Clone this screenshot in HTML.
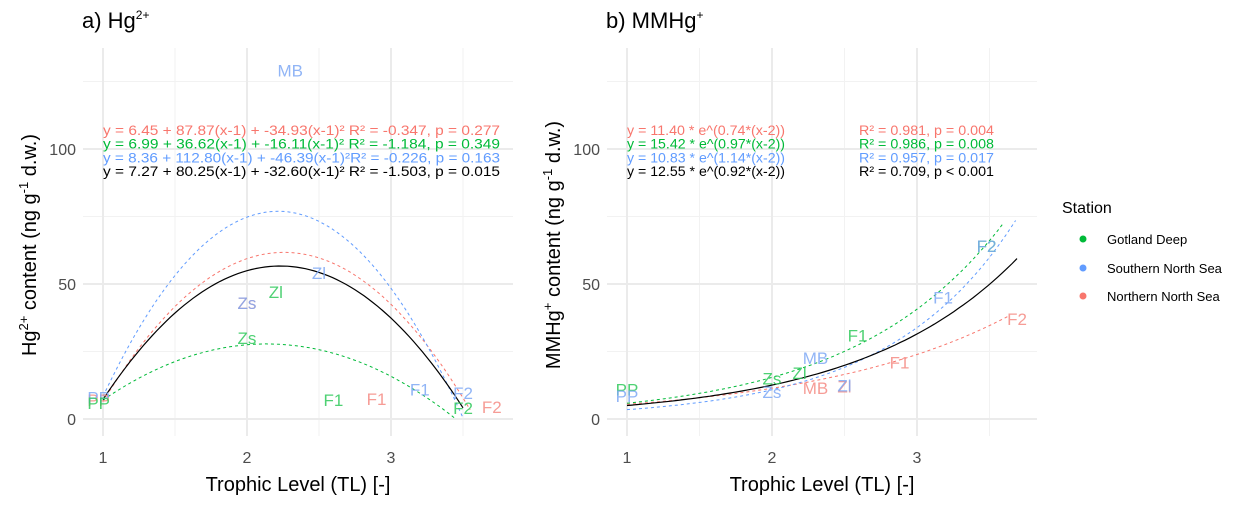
<!DOCTYPE html>
<html><head><meta charset="utf-8"><style>
body{margin:0;background:#fff}
svg{display:block;font-family:"Liberation Sans",Arial,sans-serif}
</style></head><body>
<svg id="chart" width="1247" height="508" viewBox="0 0 1247 508">
<g id="panelA"></g>
<g id="panelB"></g>
<g id="legend">
<text x="1062" y="213" font-size="16" fill="#000">Station</text>
<circle cx="1083" cy="239" r="3.5" fill="#00BA38"/>
<text x="1107" y="244" font-size="13">Gotland Deep</text>
<circle cx="1083" cy="268" r="3.5" fill="#619CFF"/>
<text x="1107" y="273" font-size="13">Southern North Sea</text>
<circle cx="1083" cy="296" r="3.5" fill="#F8766D"/>
<text x="1107" y="301" font-size="13">Northern North Sea</text>
</g>
</svg>
<script>
const xTicks=[1,2,3];
const yTicks=[0,50,100];
const colors={G:"#00BA38",S:"#619CFF",N:"#F8766D",A:"#000000"};
// Panel a: quadratic fits y=a+b(x-1)+c(x-1)^2
const quadSeries=["N","G","S","A"];
const quadA=[6.45,6.99,8.36,7.27];
const quadB=[87.87,36.62,112.80,80.25];
const quadC=[-34.93,-16.11,-46.39,-32.60];
const quadXmax=[3.55,3.45,3.5,3.5];
const quadEq=["y = 6.45 + 87.87(x-1) + -34.93(x-1)²  R² = -0.347, p = 0.277","y = 6.99 + 36.62(x-1) + -16.11(x-1)²  R² = -1.184, p = 0.349","y = 8.36 + 112.80(x-1) + -46.39(x-1)²R² = -0.226, p = 0.163","y = 7.27 + 80.25(x-1) + -32.60(x-1)²  R² = -1.503, p = 0.015"];
const labA=["PP","PP","PP","Zs","Zs","Zl","Zl","Zs","F1","F1","F1","F2","F2","F2","MB"];
const labAStation=["N","S","G","N","S","G","S","G","G","N","S","S","G","N","S"];
const labAx=[0.97,0.97,0.97,2.0,2.0,2.2,2.5,2.0,2.6,2.9,3.2,3.5,3.5,3.7,2.3];
const labAy=[7,8,6,43,43,47,54,30,7,7.5,11,9.6,4,4.4,129];
// Panel b: exponential fits y=a*e^(b(x-2))
const expSeries=["N","G","S","A"];
const expA=[11.40,15.42,10.83,12.55];
const expB=[0.74,0.97,1.14,0.92];
const expXmax=[3.64,3.59,3.68,3.69];
const expEq=["y = 11.40 * e^(0.74*(x-2))","y = 15.42 * e^(0.97*(x-2))","y = 10.83 * e^(1.14*(x-2))","y = 12.55 * e^(0.92*(x-2))"];
const expR=["R² = 0.981, p = 0.004","R² = 0.986, p = 0.008","R² = 0.957, p = 0.017","R² = 0.709, p < 0.001"];
const labB=["PP","PP","Zs","Zs","Zl","MB","MB","Zl","Zl","F1","F1","F1","F2","F2","F2"];
const labBStation=["G","S","G","S","G","S","N","N","S","G","S","N","G","S","N"];
const labBx=[1.0,1.0,2.0,2.0,2.19,2.3,2.3,2.5,2.5,2.59,3.18,2.88,3.48,3.48,3.69];
const labBy=[11,8.5,15,10,17,22.6,11.5,12,12.5,31,45,21,64,64,37];

const NS="http://www.w3.org/2000/svg";
function mk(p,t,a){const e=document.createElementNS(NS,t);for(const k in a)e.setAttribute(k,a[k]);p.appendChild(e);return e;}
const labelCol={G:"#2fc95a",S:"#7ea8f5",N:"#f58b84"};
function panel(g,x0,xs,title,ytitle){
  const X=v=>x0+(v-1)*xs, Y=v=>419-v*2.7;
  const L=x0-20,R=x0+410,T=48,B=436;
  [25,75,125].forEach(v=>{const l=mk(g,"line",{x1:L,x2:R,y1:Y(v),y2:Y(v),stroke:"#f2f2f2","stroke-width":1});});
  [1.5,2.5,3.5].forEach(v=>{const l=mk(g,"line",{x1:X(v),x2:X(v),y1:T,y2:B,stroke:"#f2f2f2","stroke-width":1});});
  yTicks.forEach(v=>{const l=mk(g,"line",{x1:L,x2:R,y1:Y(v),y2:Y(v),stroke:"#ebebeb","stroke-width":2});
    const t=mk(g,"text",{x:L-7,y:Y(v)+6,"text-anchor":"end","font-size":16,fill:"#4d4d4d"});t.textContent=v;});
  xTicks.forEach(v=>{const l=mk(g,"line",{x1:X(v),x2:X(v),y1:T,y2:B,stroke:"#ebebeb","stroke-width":2});
    const t=mk(g,"text",{x:X(v),y:463,"text-anchor":"middle","font-size":16,fill:"#4d4d4d"});t.textContent=v;});
  const t=mk(g,"text",{x:L-1,y:28,"font-size":22,fill:"#000"});t.innerHTML=title;
  const xt=mk(g,"text",{x:(L+R)/2,y:491,"text-anchor":"middle","font-size":20});xt.textContent="Trophic Level (TL) [-]";
  const yt=mk(g,"text",{x:0,y:0,"text-anchor":"middle","font-size":20,transform:`translate(${L-47},${(T+B)/2+3}) rotate(-90)`});yt.innerHTML=ytitle;
  return {X,Y};
}
function curve(g,X,Y,f,xmax,s){
  let d="";for(let i=0;i<=80;i++){const x=1+(xmax-1)*i/80;d+=(i?"L":"M")+X(x).toFixed(1)+","+Y(f(x)).toFixed(1);}
  const p=mk(g,"path",{d,fill:"none",stroke:colors[s],"stroke-width":s==="A"?1.2:1,"stroke-dasharray":s==="A"?"none":"3,3"});
  
}
function labels(g,X,Y,txt,st,xs,ys){
  txt.forEach((t,i)=>{const e=mk(g,"text",{x:X(xs[i]),y:Y(ys[i])+6,"text-anchor":"middle","font-size":17,fill:labelCol[st[i]],"fill-opacity":0.85});e.textContent=t;
    });
}
const A=document.getElementById("panelA"), Bp=document.getElementById("panelB");
const pa=panel(A,103,144,'a) Hg<tspan font-size="12" dy="-9">2+</tspan>','Hg<tspan font-size="13" dy="-8">2+</tspan><tspan dy="8"> content (ng g</tspan><tspan font-size="13" dy="-8">-1</tspan><tspan dy="8"> d.w.)</tspan>');
quadSeries.forEach((s,i)=>curve(A,pa.X,pa.Y,x=>quadA[i]+quadB[i]*(x-1)+quadC[i]*(x-1)*(x-1),quadXmax[i],s));
labels(A,pa.X,pa.Y,labA,labAStation,labAx,labAy);
quadEq.forEach((q,i)=>{const e=mk(A,"text",{x:103,y:135+i*13.7,"font-size":14,fill:quadSeries[i]==="A"?"#000":colors[quadSeries[i]],textLength:397,lengthAdjust:"spacingAndGlyphs"});e.setAttribute("xml:space","preserve");e.textContent=q;});
const pb=panel(Bp,627,145,'b) MMHg<tspan font-size="12" dy="-9">+</tspan>','MMHg<tspan font-size="13" dy="-8">+</tspan><tspan dy="8"> content (ng g</tspan><tspan font-size="13" dy="-8">-1</tspan><tspan dy="8"> d.w.)</tspan>');
expSeries.forEach((s,i)=>curve(Bp,pb.X,pb.Y,x=>expA[i]*Math.exp(expB[i]*(x-2)),expXmax[i],s));
labels(Bp,pb.X,pb.Y,labB,labBStation,labBx,labBy);
expEq.forEach((q,i)=>{const c=expSeries[i]==="A"?"#000":colors[expSeries[i]];
  const e=mk(Bp,"text",{x:627,y:135+i*13.7,"font-size":14,fill:c,textLength:158,lengthAdjust:"spacingAndGlyphs"});e.textContent=q;
  const r=mk(Bp,"text",{x:859,y:135+i*13.7,"font-size":14,fill:c,textLength:135,lengthAdjust:"spacingAndGlyphs"});r.textContent=expR[i];});
</script>
</body></html>
